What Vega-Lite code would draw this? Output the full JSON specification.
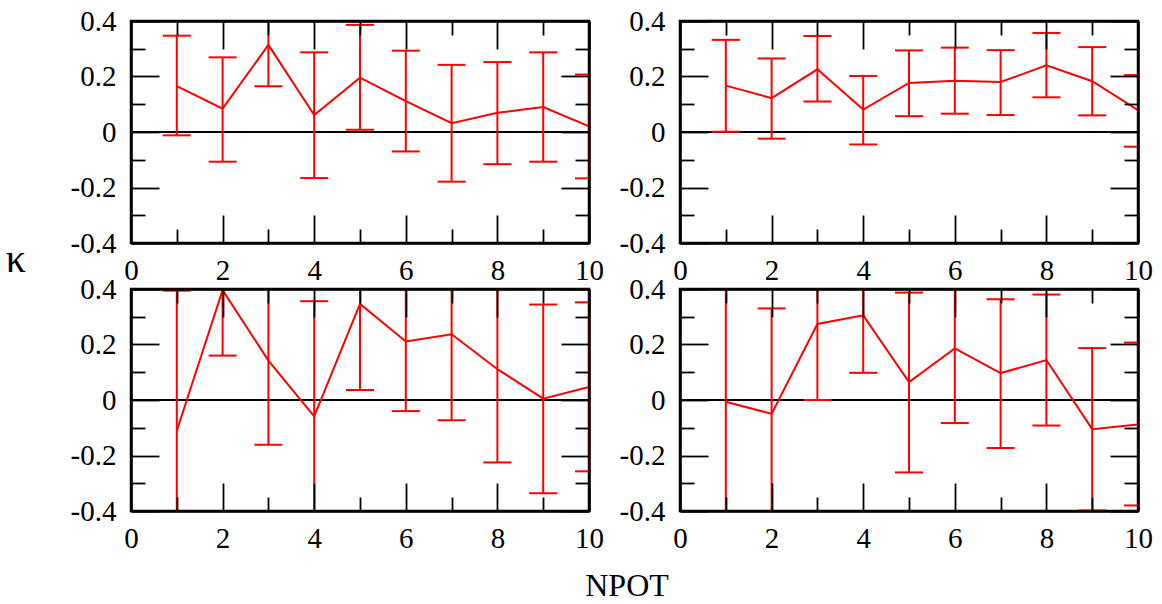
{
  "$schema": "https://vega.github.io/schema/vega-lite/v6.json",
  "background": "white",
  "bounds": "flush",
  "spacing": {"row": 46, "column": 91},
  "title": {
    "text": "NPOT", "orient": "bottom", "anchor": "middle", "frame": "group",
    "font": "Liberation Serif", "fontSize": 32, "fontWeight": "normal", "color": "black",
    "offset": 3, "dx": 496
  },
  "data": {
    "values": [
      {"r": 0, "c": 0, "n": 1, "k": 0.165, "lo": -0.012, "hi": 0.347},
      {"r": 0, "c": 0, "n": 2, "k": 0.084, "lo": -0.107, "hi": 0.269},
      {"r": 0, "c": 0, "n": 3, "k": 0.314, "lo": 0.165, "hi": 0.463},
      {"r": 0, "c": 0, "n": 4, "k": 0.061, "lo": -0.166, "hi": 0.287},
      {"r": 0, "c": 0, "n": 5, "k": 0.196, "lo": 0.008, "hi": 0.386},
      {"r": 0, "c": 0, "n": 6, "k": 0.111, "lo": -0.07, "hi": 0.293},
      {"r": 0, "c": 0, "n": 7, "k": 0.032, "lo": -0.179, "hi": 0.242},
      {"r": 0, "c": 0, "n": 8, "k": 0.069, "lo": -0.116, "hi": 0.252},
      {"r": 0, "c": 0, "n": 9, "k": 0.09, "lo": -0.107, "hi": 0.287},
      {"r": 0, "c": 0, "n": 10, "k": 0.02, "lo": -0.167, "hi": 0.207},

      {"r": 0, "c": 1, "n": 1, "k": 0.167, "lo": 0.001, "hi": 0.332},
      {"r": 0, "c": 1, "n": 2, "k": 0.122, "lo": -0.024, "hi": 0.265},
      {"r": 0, "c": 1, "n": 3, "k": 0.226, "lo": 0.11, "hi": 0.346},
      {"r": 0, "c": 1, "n": 4, "k": 0.081, "lo": -0.045, "hi": 0.202},
      {"r": 0, "c": 1, "n": 5, "k": 0.177, "lo": 0.057, "hi": 0.294},
      {"r": 0, "c": 1, "n": 6, "k": 0.185, "lo": 0.066, "hi": 0.304},
      {"r": 0, "c": 1, "n": 7, "k": 0.18, "lo": 0.061, "hi": 0.295},
      {"r": 0, "c": 1, "n": 8, "k": 0.24, "lo": 0.125, "hi": 0.357},
      {"r": 0, "c": 1, "n": 9, "k": 0.183, "lo": 0.06, "hi": 0.306},
      {"r": 0, "c": 1, "n": 10, "k": 0.079, "lo": -0.053, "hi": 0.205},

      {"r": 1, "c": 0, "n": 1, "k": -0.111, "lo": -0.616, "hi": 0.394},
      {"r": 1, "c": 0, "n": 2, "k": 0.396, "lo": 0.16, "hi": 0.632},
      {"r": 1, "c": 0, "n": 3, "k": 0.142, "lo": -0.161, "hi": 0.445},
      {"r": 1, "c": 0, "n": 4, "k": -0.059, "lo": -0.474, "hi": 0.356},
      {"r": 1, "c": 0, "n": 5, "k": 0.346, "lo": 0.036, "hi": 0.656},
      {"r": 1, "c": 0, "n": 6, "k": 0.211, "lo": -0.04, "hi": 0.462},
      {"r": 1, "c": 0, "n": 7, "k": 0.237, "lo": -0.073, "hi": 0.547},
      {"r": 1, "c": 0, "n": 8, "k": 0.111, "lo": -0.225, "hi": 0.447},
      {"r": 1, "c": 0, "n": 9, "k": 0.005, "lo": -0.336, "hi": 0.344},
      {"r": 1, "c": 0, "n": 10, "k": 0.047, "lo": -0.257, "hi": 0.352},

      {"r": 1, "c": 1, "n": 1, "k": -0.006, "lo": -0.5, "hi": 0.49},
      {"r": 1, "c": 1, "n": 2, "k": -0.05, "lo": -0.43, "hi": 0.33},
      {"r": 1, "c": 1, "n": 3, "k": 0.274, "lo": 0.0, "hi": 0.548},
      {"r": 1, "c": 1, "n": 4, "k": 0.305, "lo": 0.098, "hi": 0.512},
      {"r": 1, "c": 1, "n": 5, "k": 0.065, "lo": -0.261, "hi": 0.387},
      {"r": 1, "c": 1, "n": 6, "k": 0.186, "lo": -0.083, "hi": 0.455},
      {"r": 1, "c": 1, "n": 7, "k": 0.097, "lo": -0.173, "hi": 0.363},
      {"r": 1, "c": 1, "n": 8, "k": 0.144, "lo": -0.092, "hi": 0.38},
      {"r": 1, "c": 1, "n": 9, "k": -0.105, "lo": -0.398, "hi": 0.187},
      {"r": 1, "c": 1, "n": 10, "k": -0.088, "lo": -0.38, "hi": 0.207}
    ]
  },
  "facet": {
    "row": {
      "field": "r", "type": "ordinal", "title": "κ",
      "header": {"labels": false, "titleAngle": 0, "titleOrient": "left", "titleAlign": "right", "titleBaseline": "line-bottom", "titleLineHeight": 53, "titleFontSize": 40, "titleFont": "Liberation Serif", "titleFontWeight": "normal", "titleColor": "black", "titlePadding": 75}
    },
    "column": {
      "field": "c", "type": "ordinal", "title": null,
      "header": {"labels": false}
    }
  },
  "resolve": {"axis": {"x": "independent", "y": "independent"}},
  "spec": {
    "width": 458,
    "height": 222,
    "resolve": {"axis": {"x": "independent", "y": "independent"}},
    "layer": [
      {
        "mark": {"type": "rule", "color": "black", "strokeWidth": 2},
        "encoding": {
          "y": {"datum": 0, "type": "quantitative", "scale": {"domain": [-0.4, 0.4], "nice": false}, "axis": null}
        }
      },
      {
        "mark": {"type": "line", "color": "#ff0000", "strokeWidth": 2, "clip": true},
        "encoding": {
          "x": {
            "field": "n", "type": "quantitative",
            "scale": {"domain": [0, 10], "nice": false, "zero": false},
            "axis": {
              "orient": "bottom", "title": null, "grid": false, "zindex": 1,
              "domain": true, "domainColor": "black", "domainWidth": 2.5,
              "values": [0, 1, 2, 3, 4, 5, 6, 7, 8, 9, 10],
              "tickSize": {"condition": {"test": "datum.value % 2 === 0", "value": -28}, "value": -14},
              "tickColor": "black", "tickWidth": 1.8,
              "labelFont": "Liberation Serif", "labelFontSize": 29, "labelColor": "black",
              "labelExpr": "datum.value % 2 === 0 ? datum.label : ''",
              "labelPadding": 41, "labelFlush": false, "labelOverlap": false
            }
          },
          "y": {
            "field": "k", "type": "quantitative",
            "scale": {"domain": [-0.4, 0.4], "nice": false, "zero": false},
            "axis": {
              "orient": "left", "title": null, "grid": false, "zindex": 1,
              "domain": true, "domainColor": "black", "domainWidth": 2.5,
              "values": [-0.4, -0.3, -0.2, -0.1, 0, 0.1, 0.2, 0.3, 0.4],
              "tickSize": {"condition": {"test": "round(datum.value * 10) % 2 === 0", "value": -28}, "value": -14},
              "tickColor": "black", "tickWidth": 1.8,
              "labelFont": "Liberation Serif", "labelFontSize": 29, "labelColor": "black",
              "labelExpr": "round(datum.value * 10) % 2 === 0 ? toString(round(datum.value * 10) / 10) : ''",
              "labelPadding": 43, "labelOverlap": false
            }
          },
          "order": {"field": "n"}
        }
      },
      {
        "mark": {"type": "rule", "color": "#ff0000", "strokeWidth": 2, "clip": true},
        "encoding": {
          "x": {
            "field": "n", "type": "quantitative",
            "scale": {"domain": [0, 10], "nice": false, "zero": false},
            "axis": {
              "orient": "top", "title": null, "grid": false, "zindex": 1, "labels": false,
              "domain": true, "domainColor": "black", "domainWidth": 2.5,
              "values": [0, 1, 2, 3, 4, 5, 6, 7, 8, 9, 10],
              "tickColor": "black", "tickWidth": 1.8,
              "tickSize": {"condition": {"test": "datum.value % 2 === 0", "value": -28}, "value": -14}
            }
          },
          "y": {
            "field": "lo", "type": "quantitative",
            "scale": {"domain": [-0.4, 0.4], "nice": false, "zero": false},
            "axis": {
              "orient": "right", "title": null, "grid": false, "zindex": 1, "labels": false,
              "domain": true, "domainColor": "black", "domainWidth": 2.5,
              "values": [-0.4, -0.3, -0.2, -0.1, 0, 0.1, 0.2, 0.3, 0.4],
              "tickColor": "black", "tickWidth": 1.8,
              "tickSize": {"condition": {"test": "round(datum.value * 10) % 2 === 0", "value": -28}, "value": -14}
            }
          },
          "y2": {"field": "hi"}
        }
      },
      {
        "mark": {"type": "tick", "orient": "horizontal", "color": "#ff0000", "size": 28, "thickness": 2, "opacity": 1, "clip": true},
        "encoding": {
          "x": {"field": "n", "type": "quantitative", "scale": {"domain": [0, 10], "nice": false, "zero": false}, "axis": null},
          "y": {"field": "lo", "type": "quantitative", "scale": {"domain": [-0.4, 0.4], "nice": false, "zero": false}, "axis": null}
        }
      },
      {
        "mark": {"type": "tick", "orient": "horizontal", "color": "#ff0000", "size": 28, "thickness": 2, "opacity": 1, "clip": true},
        "encoding": {
          "x": {"field": "n", "type": "quantitative", "scale": {"domain": [0, 10], "nice": false, "zero": false}, "axis": null},
          "y": {"field": "hi", "type": "quantitative", "scale": {"domain": [-0.4, 0.4], "nice": false, "zero": false}, "axis": null}
        }
      }
    ]
  },
  "config": {
    "font": "Liberation Serif",
    "view": {"stroke": "black", "strokeWidth": 2.5},
    "axis": {"labelFont": "Liberation Serif", "labelFontSize": 29, "labelColor": "black", "tickColor": "black", "tickWidth": 1.8}
  }
}
